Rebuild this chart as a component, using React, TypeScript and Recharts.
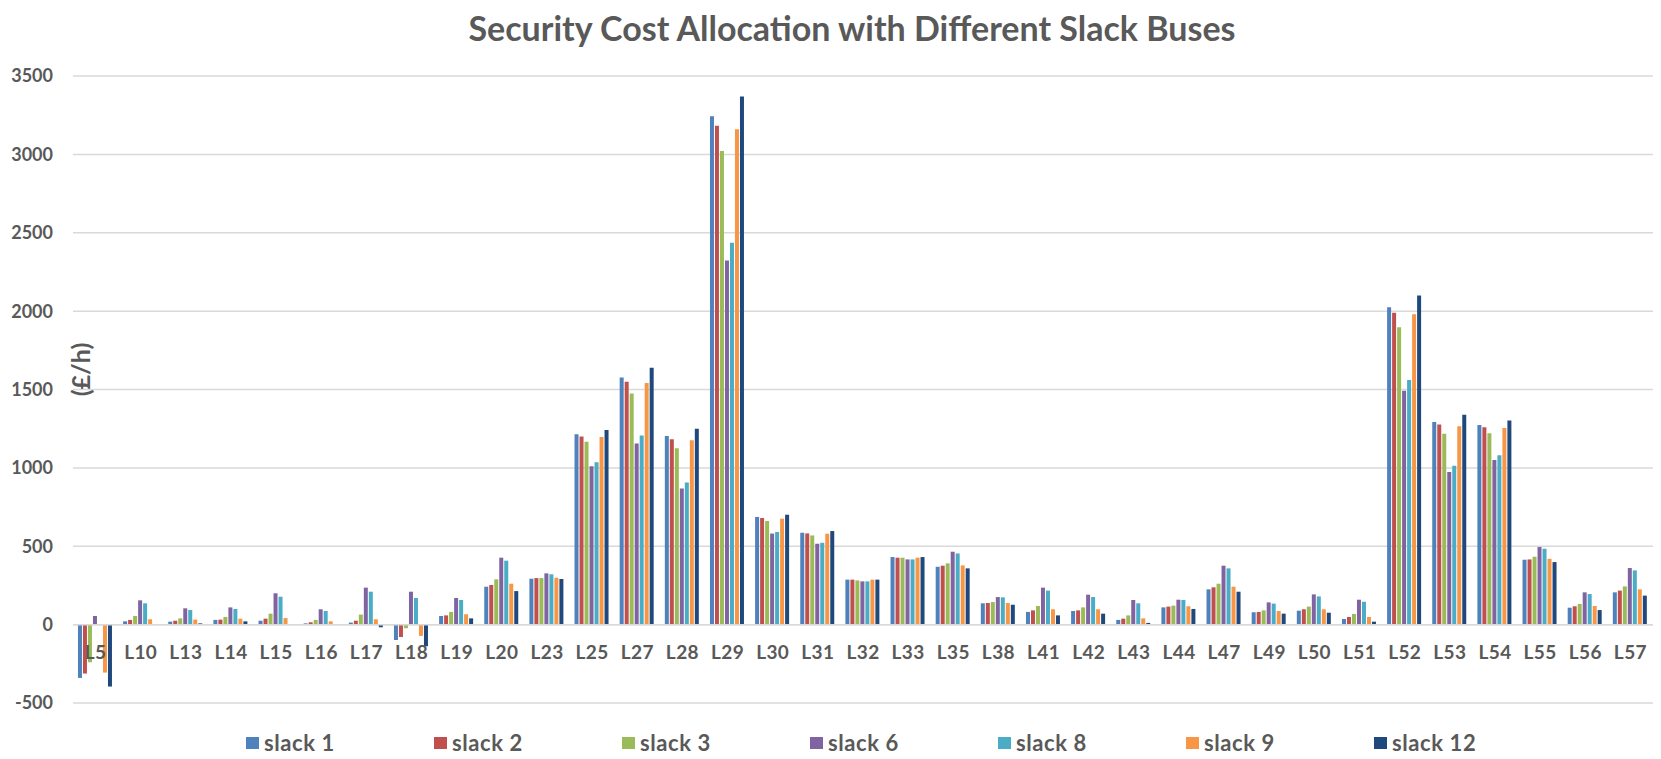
import React from 'react';
import { BarChart, Bar, XAxis, YAxis, CartesianGrid, ReferenceLine } from 'recharts';

const categories = ['L5','L10','L13','L14','L15','L16','L17','L18','L19','L20','L23','L25','L27','L28','L29','L30','L31','L32','L33','L35','L38','L41','L42','L43','L44','L47','L49','L50','L51','L52','L53','L54','L55','L56','L57'];

const slack1 = [-340,21,19,30,25,8,13,-98,55,242,293,1214,1577,1204,3243,687,586,287,431,369,136,81,87,30,110,225,79,89,36,2024,1293,1274,414,108,206];
const slack2 = [-312,30,25,32,38,15,25,-79,59,253,297,1200,1549,1183,3182,680,582,287,427,376,138,91,91,38,115,238,81,98,49,1990,1276,1259,416,117,217];
const slack3 = [-240,55,40,49,70,30,64,-23,81,289,297,1166,1475,1125,3021,661,569,282,427,391,144,119,110,59,121,261,91,115,68,1897,1217,1221,433,132,244];
const slack6 = [55,155,104,110,200,98,236,210,170,427,327,1011,1155,869,2323,581,516,276,416,465,176,236,191,157,159,376,142,193,159,1492,973,1051,495,206,361];
const slack8 = [0,136,93,100,178,87,210,170,157,408,321,1036,1206,907,2436,591,522,276,416,454,174,217,176,136,157,359,134,180,146,1560,1013,1081,484,195,346];
const slack9 = [-306,34,32,38,42,21,34,-72,66,261,299,1197,1541,1176,3161,676,580,287,427,378,138,98,98,40,117,242,87,98,49,1980,1265,1255,420,119,225];
const slack12 = [-395,2,8,21,0,0,-17,-138,40,214,291,1242,1638,1250,3370,701,597,287,431,359,127,59,70,11,100,210,70,76,19,2100,1339,1303,399,93,185];

const yTicks = [-500, 0, 500, 1000, 1500, 2000, 2500, 3000, 3500];

const seriesNames = ['slack 1','slack 2','slack 3','slack 6','slack 8','slack 9','slack 12'];
const seriesKeys = ['s1','s2','s3','s6','s8','s9','s12'];
const seriesColors = ['#4F81BD','#C0504D','#9BBB59','#8064A2','#4BACC6','#F79646','#1F497D'];
const seriesValues = [slack1, slack2, slack3, slack6, slack8, slack9, slack12];

const data = categories.map((c, i) => {
  const row: any = { name: c };
  seriesKeys.forEach((k, j) => { row[k] = seriesValues[j][i]; });
  return row;
});

const TEXT = '#595959';
const FONT = 'Lato, "Open Sans", sans-serif';

const XTick = (props: any) => {
  const { x, y, payload } = props;
  return (
    <text x={x} y={y} dy={-52} textAnchor="middle" fill={TEXT} fontFamily={FONT} fontWeight={700} fontSize={19} letterSpacing={0.4}>
      {payload.value}
    </text>
  );
};

const YLabel = (props: any) => {
  const vb = props.viewBox || { x: 0, y: 0, width: 0, height: 0 };
  const cx = vb.x + vb.width + 7;
  const cy = vb.y + vb.height / 2 - 20;
  return (
    <text x={cx} y={cy} transform={`rotate(-90, ${cx}, ${cy})`} textAnchor="middle" dominantBaseline="central"
      fill={TEXT} fontFamily={FONT} fontWeight={700} fontSize={25}>
      (£/h)
    </text>
  );
};

export default function App() {
  return (
    <div style={{ position: 'absolute', left: 0, top: 0, width: 1661, height: 759, background: '#fff', fontFamily: FONT }}>
      <div style={{ position: 'absolute', top: 7, left: 402, width: 900, textAlign: 'center', fontSize: 34, fontWeight: 700, color: TEXT, lineHeight: 'normal', whiteSpace: 'nowrap' }}>
        Security Cost Allocation with Different Slack Buses
      </div>
      <BarChart width={1661} height={759} data={data} margin={{ top: 76, right: 8, bottom: 26, left: 10 }}
        barCategoryGap="11%" barGap={1}>
        <CartesianGrid vertical={false} stroke="#d9d9d9" strokeWidth={1.5} />
        <XAxis dataKey="name" height={30} axisLine={false} tickLine={false} tick={<XTick />} interval={0} />
        <YAxis domain={[-500, 3500]} ticks={yTicks} width={63} axisLine={false} tickLine={false} tickMargin={14}
          tick={{ fill: TEXT, fontFamily: FONT, fontWeight: 700, fontSize: 18 }} interval={0}
          label={<YLabel />} />
        <ReferenceLine y={0} stroke="#d9d9d9" strokeWidth={1.5} />
        {seriesKeys.map((k, j) => (
          <Bar key={k} dataKey={k} name={seriesNames[j]} fill={seriesColors[j]} isAnimationActive={false} />
        ))}
      </BarChart>
      <div style={{ position: 'absolute', top: 729, left: 246, display: 'flex' }}>
        {seriesNames.map((n, j) => (
          <div key={n} style={{ width: 188, display: 'flex', alignItems: 'center' }}>
            <span style={{ display: 'inline-block', width: 13, height: 12, background: seriesColors[j], marginRight: 5 }} />
            <span style={{ fontSize: 22, fontWeight: 700, color: TEXT, letterSpacing: 0.6 }}>{n}</span>
          </div>
        ))}
      </div>
    </div>
  );
}
